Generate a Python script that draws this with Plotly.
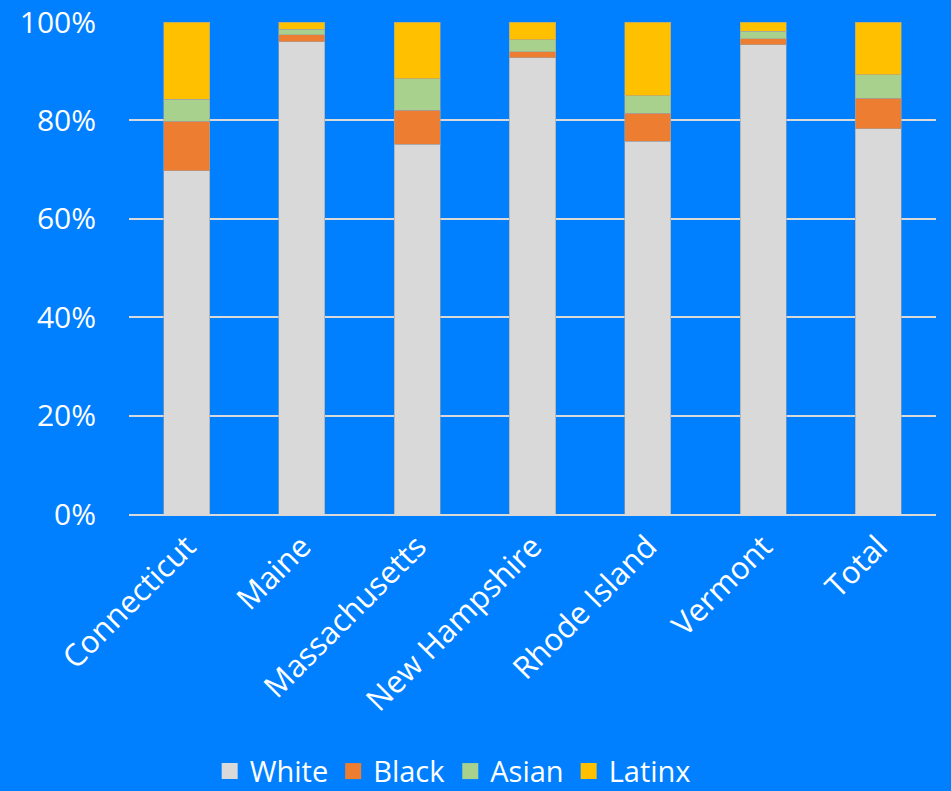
import plotly.graph_objects as go

states = ["Connecticut", "Maine", "Massachusetts", "New Hampshire", "Rhode Island", "Vermont", "Total"]
white = [69.8, 96.0, 75.2, 92.7, 75.8, 95.4, 78.3]
black = [10.0, 1.4, 6.9, 1.3, 5.7, 1.2, 6.2]
asian = [4.5, 1.1, 6.4, 2.4, 3.5, 1.5, 4.8]
latinx = [15.7, 1.5, 11.5, 3.6, 15.0, 1.9, 10.7]
tick_vals = [0, 20, 40, 60, 80, 100]
tick_text = ["0%", "20%", "40%", "60%", "80%", "100%"]

series = [("White", white, "#D9D9D9"), ("Black", black, "#ED7D31"),
          ("Asian", asian, "#A9D18E"), ("Latinx", latinx, "#FFC000")]

fig = go.Figure()
for name, vals, col in series:
    fig.add_trace(go.Bar(x=states, y=vals, name=name, marker_color=col, showlegend=False,
                         marker_line=dict(width=1, color="rgba(160,160,160,0.6)")))
for name, vals, col in series:
    fig.add_trace(go.Scatter(x=[None], y=[None], mode="markers", name=name,
                             marker=dict(symbol="square", size=20, color=col)))

font = "Open Sans, Noto Sans, sans-serif"
fig.update_layout(
    barmode="stack", bargap=0.6,
    width=951, height=791,
    paper_bgcolor="#0080FF", plot_bgcolor="#0080FF",
    margin=dict(l=129, r=15, t=22, b=277, autoexpand=False),
    font=dict(family=font, color="white", size=30),
    legend=dict(orientation="h", xref="container", x=0.476, xanchor="center",
                yref="container", y=0.025, yanchor="middle",
                font=dict(size=29, color="white"), traceorder="normal",
                itemwidth=30, tracegroupgap=0),
    showlegend=True,
)
fig.update_yaxes(range=[0, 100], tickvals=tick_vals, ticktext=tick_text,
                 showgrid=True, gridcolor="#D9D9D9", gridwidth=2, automargin=False,
                 zeroline=False, showline=False, ticks="", ticklabelstandoff=32,
                 tickfont=dict(size=30, color="white"))
fig.update_xaxes(showline=True, linecolor="#D9D9D9", linewidth=2, ticks="", automargin=False,
                 tickangle=-45, tickfont=dict(size=31, color="white"))
fig.write_html("out.html", config={"displayModeBar": False},
               post_script="document.body.style.margin='0';document.body.style.background='#0080FF';")
